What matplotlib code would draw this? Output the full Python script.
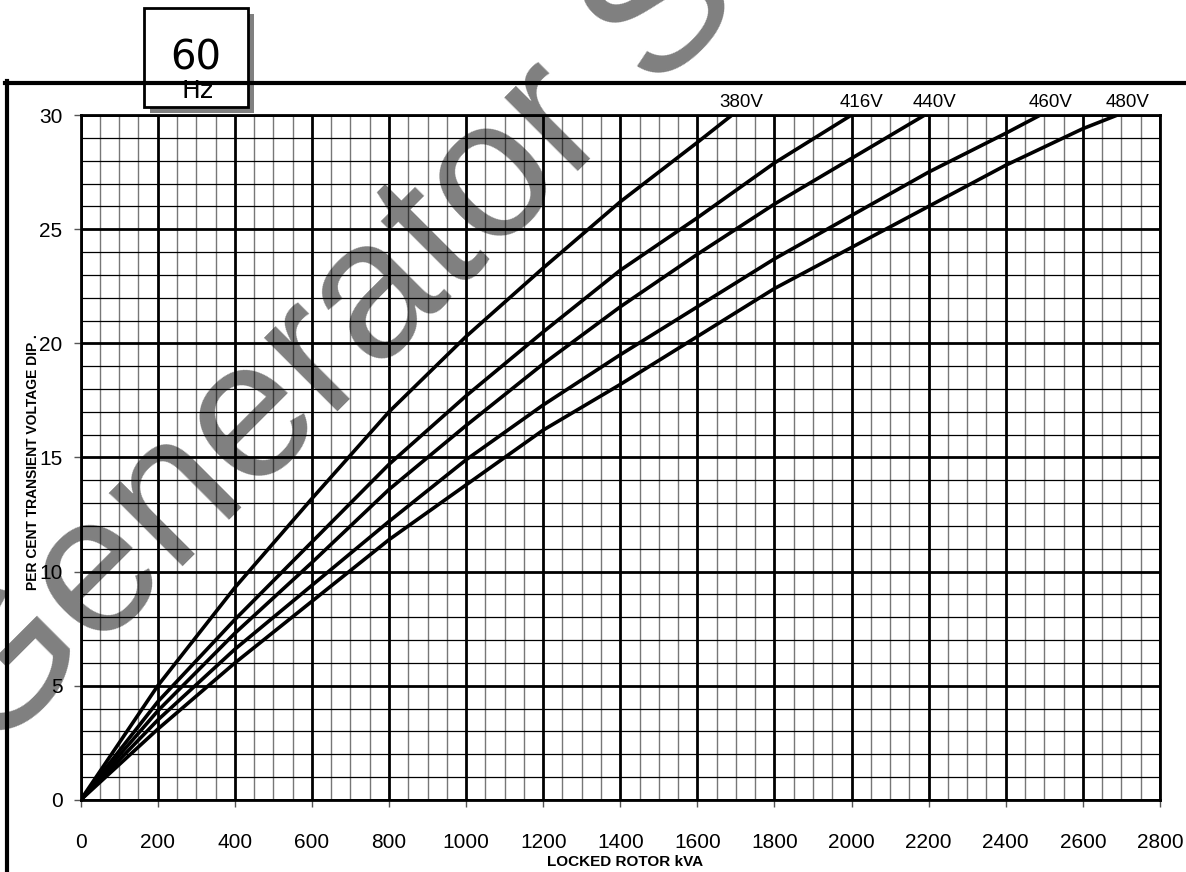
import matplotlib
matplotlib.use("Agg")
import matplotlib.pyplot as plt
from matplotlib.patches import Rectangle
from matplotlib.lines import Line2D
from matplotlib.ticker import MultipleLocator

plt.rcParams["font.family"] = ["Liberation Sans", "DejaVu Sans"]

# locked rotor kVA sample points and % transient voltage dip per curve
kva_380 = [0, 200, 400, 600, 800, 1000, 1200, 1400, 1600, 1690]
dip_380 = [0, 5.0, 9.3, 13.2, 17.0, 20.3, 23.3, 26.2, 28.8, 30.0]

kva_416 = [0, 200, 400, 600, 800, 1000, 1200, 1400, 1600, 1800, 2000]
dip_416 = [0, 4.3, 7.9, 11.3, 14.7, 17.7, 20.5, 23.2, 25.5, 27.9, 30.0]

kva_440 = [0, 200, 400, 600, 800, 1000, 1200, 1400, 1600, 1800, 2000, 2190]
dip_440 = [0, 3.9, 7.3, 10.4, 13.6, 16.4, 19.1, 21.6, 23.9, 26.1, 28.1, 30.0]

kva_460 = [0, 200, 400, 600, 800, 1000, 1200, 1400, 1600, 1800, 2000, 2200, 2400, 2490]
dip_460 = [0, 3.5, 6.6, 9.4, 12.2, 14.9, 17.3, 19.5, 21.6, 23.7, 25.6, 27.5, 29.2, 30.0]

kva_480 = [0, 200, 400, 600, 800, 1000, 1200, 1400, 1600, 1800, 2000, 2200, 2400, 2600, 2690]
dip_480 = [0, 3.1, 6.0, 8.7, 11.4, 13.8, 16.2, 18.2, 20.3, 22.4, 24.2, 26.0, 27.8, 29.4, 30.0]

curves = [
    ("380V", kva_380, dip_380),
    ("416V", kva_416, dip_416),
    ("440V", kva_440, dip_440),
    ("460V", kva_460, dip_460),
    ("480V", kva_480, dip_480),
]

W, H = 1186, 872
fig = plt.figure(figsize=(W / 100, H / 100), dpi=100)
ax = fig.add_axes([0.068, 0.0826, 0.9100, 0.7855])

ax.set_xlim(0, 2800)
ax.set_ylim(0, 30)
ax.xaxis.set_major_locator(MultipleLocator(200))
ax.xaxis.set_minor_locator(MultipleLocator(50))
ax.yaxis.set_major_locator(MultipleLocator(5))
ax.yaxis.set_minor_locator(MultipleLocator(1))

ax.xaxis.grid(True, which="minor", color="#777777", lw=1.0)
ax.yaxis.grid(True, which="minor", color="black", lw=0.9)
ax.grid(True, which="major", color="black", lw=2.0)
ax.set_axisbelow(True)

ax.tick_params(which="minor", length=0)
ax.tick_params(axis="x", which="major", length=5, width=1, pad=19, labelsize=15, color="#555555")
ax.tick_params(axis="y", which="major", length=5, width=1, pad=8, labelsize=15, color="#555555")
for sp in ax.spines.values():
    sp.set_linewidth(2.0)

for name, x, y in curves:
    ax.plot(x, y, color="black", lw=2.6, solid_capstyle="butt", zorder=3)
    ax.annotate(name, xy=(x[-1], 30), xytext=(7, 6), textcoords="offset points",
                ha="center", va="baseline", fontsize=13.5, annotation_clip=False)

fig.text(625 / W, 1 - 862 / H, "LOCKED ROTOR kVA", ha="center", va="center",
         fontsize=11, fontweight="bold")
fig.text(33 / W, 1 - 462 / H, "PER CENT TRANSIENT VOLTAGE DIP .", ha="center",
         va="center", rotation=90, fontsize=10, fontweight="bold")

# outer frame
fig.add_artist(Line2D([5 / W, 1], [1 - 83 / H, 1 - 83 / H], color="black", lw=3,
                      transform=fig.transFigure))
fig.add_artist(Line2D([7 / W, 7 / W], [0, 1 - 81.5 / H], color="black", lw=3,
                      transform=fig.transFigure))

# 60 Hz badge
fig.add_artist(Rectangle((150 / W, 1 - 113 / H), 104 / W, 99 / H,
                         facecolor="#808080", edgecolor="none", transform=fig.transFigure))
fig.add_artist(Rectangle((144 / W, 1 - 107 / H), 104 / W, 99 / H,
                         facecolor="white", edgecolor="black", lw=2,
                         transform=fig.transFigure))
fig.text(196 / W, 1 - 70 / H, "60", ha="center", va="baseline", fontsize=29,
         family="DejaVu Sans")
fig.text(198 / W, 1 - 98 / H, "Hz", ha="center", va="baseline", fontsize=18,
         family="DejaVu Sans")

# watermark
fig.text(-12 / W, 1 - 762 / H, "Generator S", rotation=45, rotation_mode="anchor",
         ha="left", va="baseline", fontsize=142, color="black", alpha=0.5, zorder=10)

fig.savefig("out.png", dpi=100)
